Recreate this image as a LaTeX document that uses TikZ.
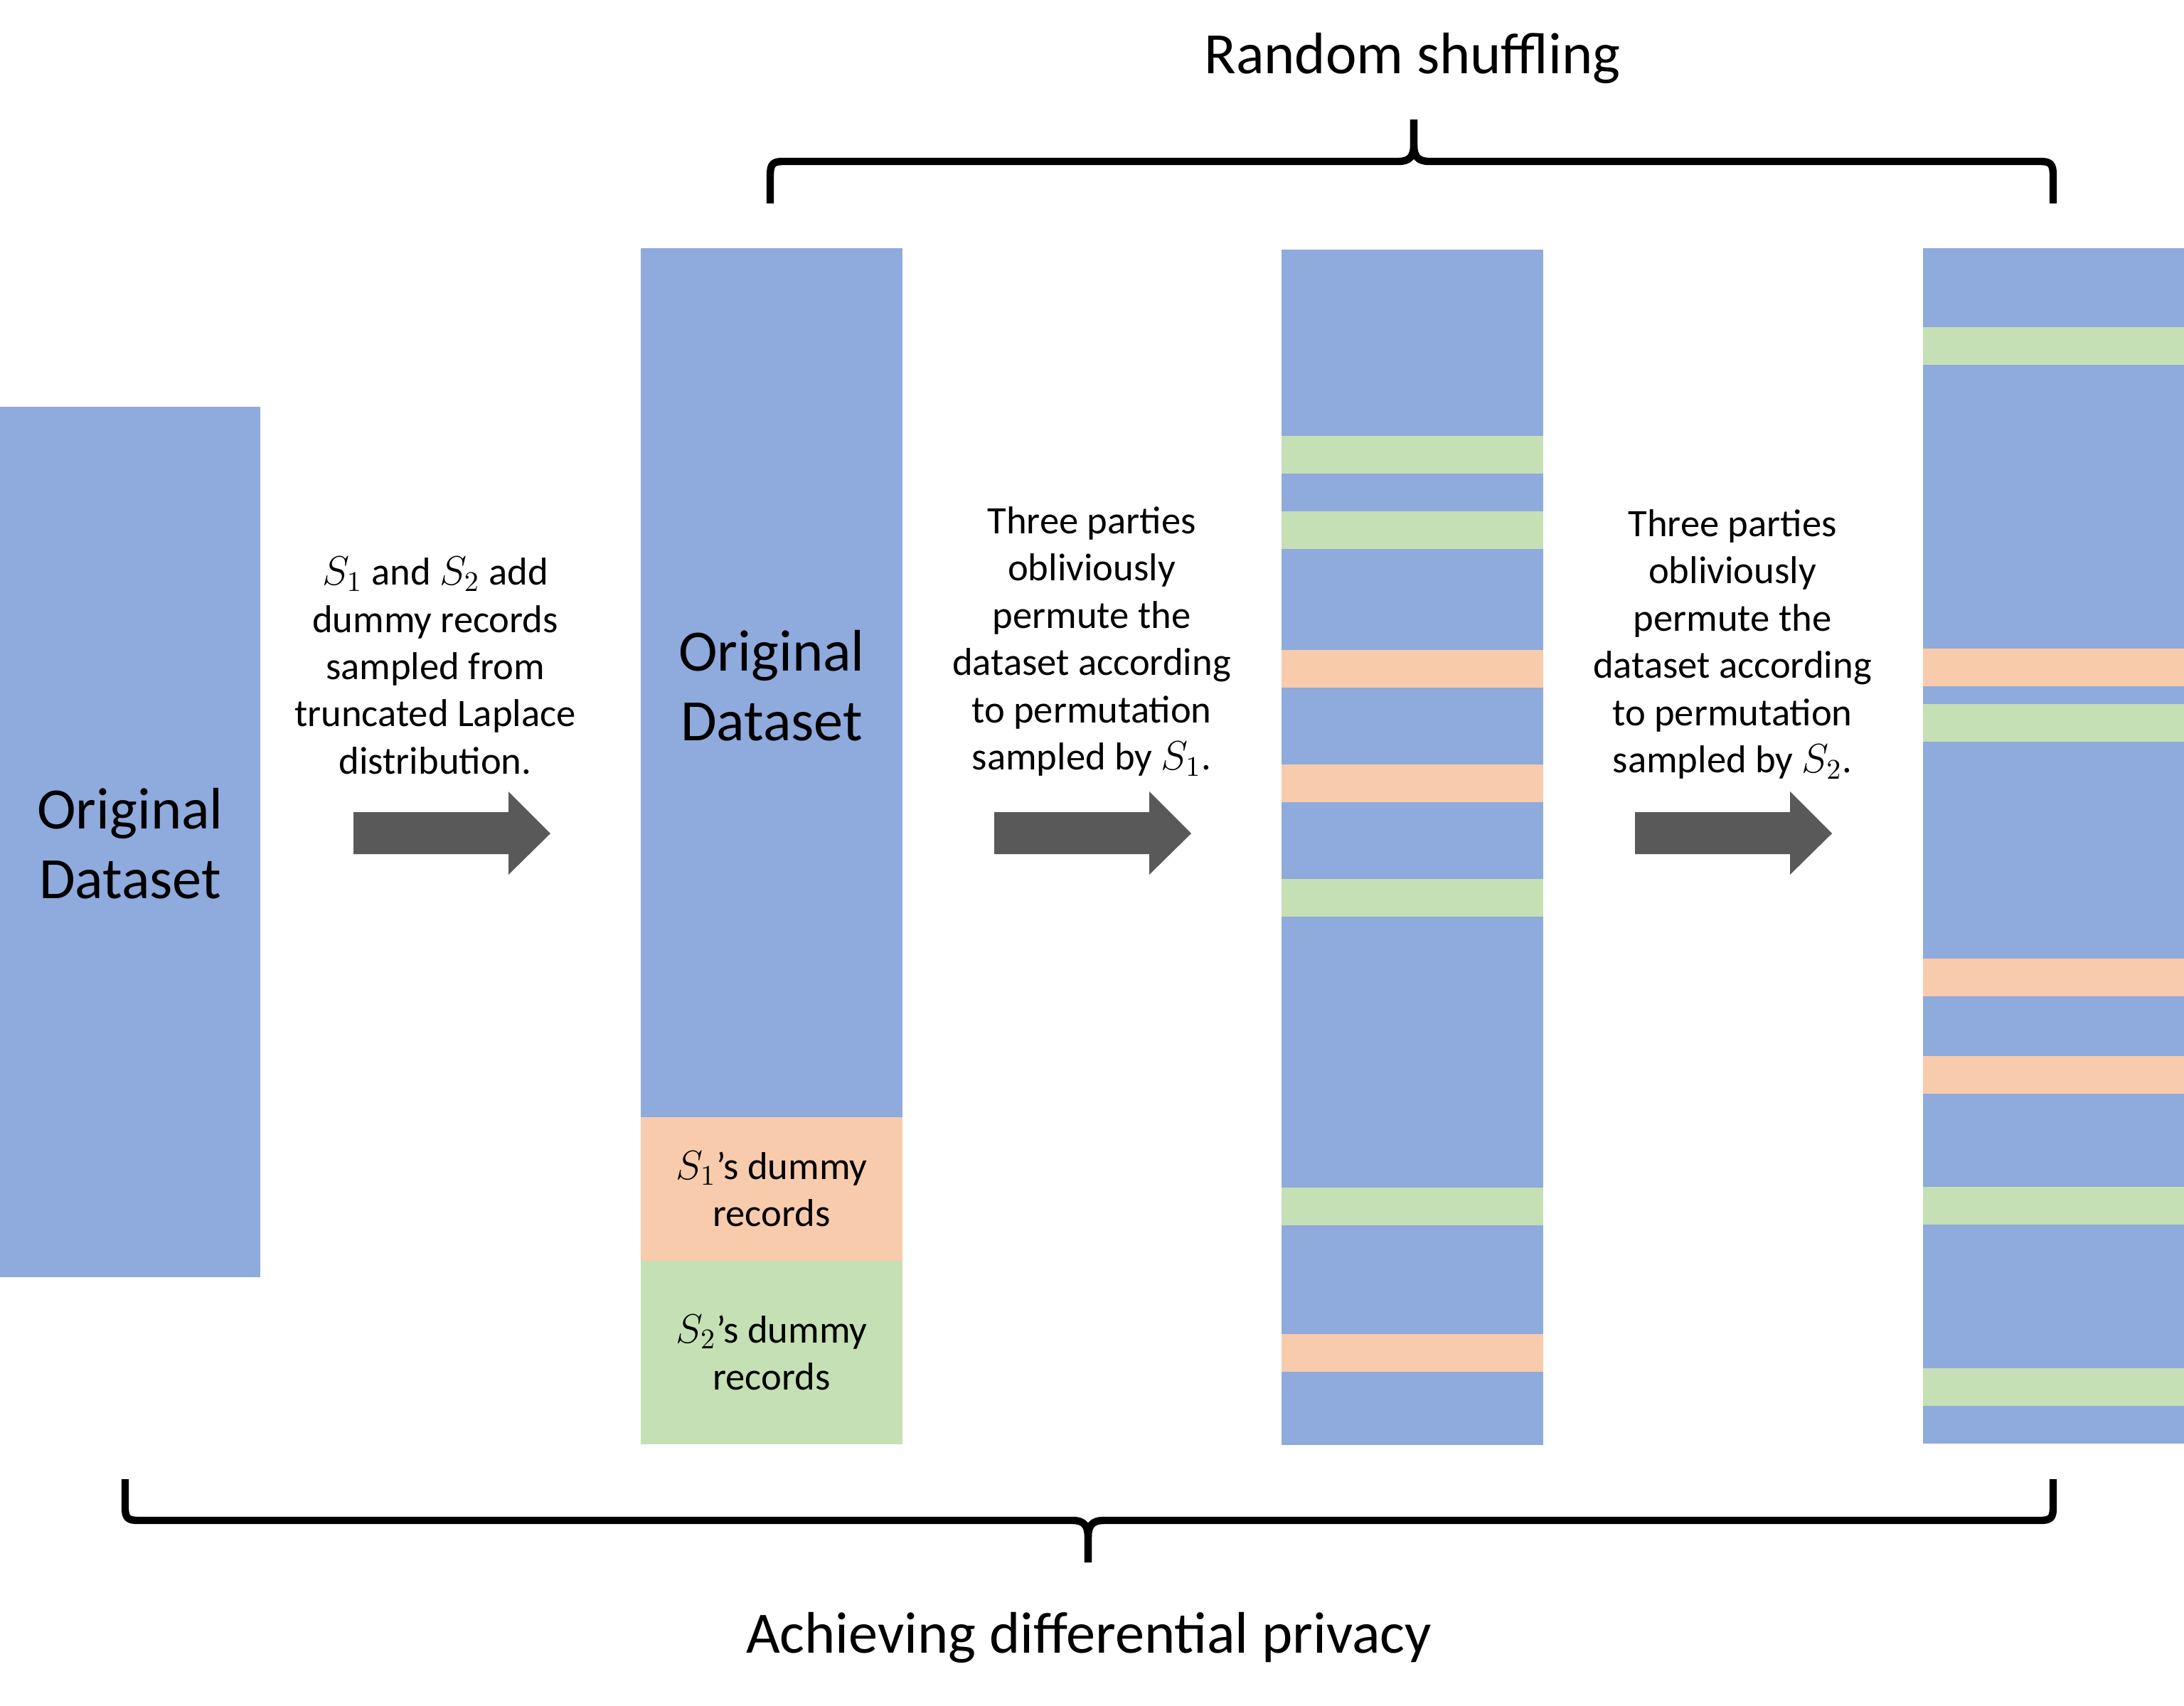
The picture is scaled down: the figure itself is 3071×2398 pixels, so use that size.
\documentclass[tikz,border=0pt]{standalone}
\usepackage{fontspec}
\setmainfont{Carlito}
\definecolor{dblue}{HTML}{8FAADC}
\definecolor{dorange}{HTML}{F8CBAD}
\definecolor{dgreen}{HTML}{C5E0B4}
\definecolor{darrow}{HTML}{595959}
\begin{document}
\begin{tikzpicture}[x=0.25pt,y=-0.25pt,
  bigtxt/.style={align=center,inner sep=0,font=\fontsize{20.6}{24.5}\selectfont},
  smalltxt/.style={align=center,inner sep=0,font=\fontsize{13.65}{16.6}\selectfont},
  bracestyle/.style={line width=2.6pt,line cap=butt,line join=round},
  blockarrow/.style={fill=darrow}]
\useasboundingbox (0,0) rectangle (3071,2398);
% column 1
\fill[dblue] (0,572) rectangle (366,1796);
\node[bigtxt] (orig1) at (183,1186) {Original\\Dataset};
% column 2
\fill[dblue] (901,349) rectangle (1269,1571);
\fill[dorange] (901,1571) rectangle (1269,1773);
\fill[dgreen] (901,1773) rectangle (1269,2031);
\node[bigtxt] (orig2) at (1085,964) {Original\\Dataset};
\node[smalltxt] (d1) at (1085,1672) {$S_1$’s dummy\\records};
\node[smalltxt] (d2) at (1085,1902) {$S_2$’s dummy\\records};
% column 3
\fill[dblue] (1802,351) rectangle (2170,2032);
\foreach \a/\c in {613/dgreen,719/dgreen,914/dorange,1075/dorange,1236/dgreen,1670/dgreen,1876/dorange}
  \fill[\c] (1802,\a) rectangle (2170,\a+53);
% column 4
\fill[dblue] (2704,349) rectangle (3071,2030);
\foreach \a/\c in {460/dgreen,912/dorange,990/dgreen,1348/dorange,1485/dorange,1669/dgreen,1924/dgreen}
  \fill[\c] (2704,\a) rectangle (3071,\a+53);
% arrows
\foreach \x in {497,1398,2299}
  \fill[blockarrow] (\x,1142) -- (\x+218,1142) -- (\x+218,1113) -- (\x+277,1172)
     -- (\x+218,1230) -- (\x+218,1201) -- (\x,1201) -- cycle;
% arrow texts
\node[smalltxt] (t1) at (612,936) {$S_1$ and $S_2$ add\\dummy records\\sampled from\\truncated Laplace\\distribution.};
\node[smalltxt] (t2) at (1535,902) {Three parties\\obliviously\\permute the\\dataset according\\to permutation\\sampled by $S_1$.};
\node[smalltxt] (t3) at (2436,906) {Three parties\\obliviously\\permute the\\dataset according\\to permutation\\sampled by $S_2$.};
% top brace
\draw[bracestyle] (1083,286) -- (1083,247) .. controls (1083,230) and (1087,227) .. (1102,227)
  -- (1966,227) .. controls (1982,227) and (1988,220) .. (1988,204) -- (1988,168);
\draw[bracestyle] (2887,286) -- (2887,247) .. controls (2887,230) and (2883,227) .. (2868,227)
  -- (2010,227) .. controls (1994,227) and (1988,220) .. (1988,204) -- (1988,168);
\node[bigtxt] (rs) at (1986,82) {Random shuffling};
% bottom brace
\draw[bracestyle] (176,2080) -- (176,2120) .. controls (176,2135) and (180,2138) .. (195,2138)
  -- (1508,2138) .. controls (1524,2138) and (1530,2145) .. (1530,2162) -- (1530,2197);
\draw[bracestyle] (2887,2080) -- (2887,2120) .. controls (2887,2135) and (2883,2138) .. (2868,2138)
  -- (1552,2138) .. controls (1536,2138) and (1530,2145) .. (1530,2162) -- (1530,2197);
\node[bigtxt] (dp) at (1531,2303) {Achieving differential privacy};
\end{tikzpicture}
\end{document}
